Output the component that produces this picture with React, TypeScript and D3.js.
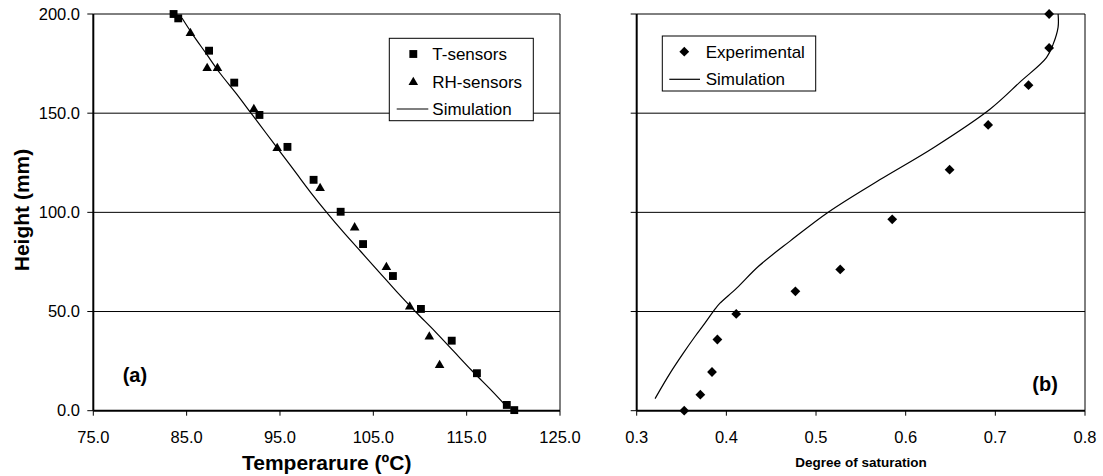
import React from 'react';
import * as d3 from 'd3';

// panel (a): temperature profile
const tSensorTemp = [83.6, 84.1, 87.4, 90.1, 92.8, 95.8, 98.6, 101.5, 103.9, 107.1, 110.1, 113.4, 116.1, 119.3, 120.1];
const tSensorHeight = [200.0, 197.8, 181.5, 165.4, 149.1, 133.0, 116.4, 100.3, 84.0, 67.9, 51.3, 35.3, 18.9, 2.9, 0.3];
const rhSensorTemp = [85.4, 87.2, 88.3, 92.2, 94.7, 99.3, 103.0, 106.4, 108.9, 111.0, 112.1];
const rhSensorHeight = [190.3, 172.6, 172.6, 152.0, 132.3, 112.1, 92.3, 72.3, 52.4, 37.3, 22.9];
const simTemp = [84.5, 85.6, 87.1, 88.6, 90.3, 91.9, 93.5, 95.1, 96.7, 98.3, 100.0, 101.8, 103.7, 105.6, 107.5, 109.5, 111.6, 113.6, 115.6, 117.7, 119.1];
const simTempHeight = [198, 190, 180, 170, 160, 150, 140, 130, 120, 110, 100, 90, 80, 70, 60, 50, 40, 30, 20, 10, 3];

// panel (b): degree of saturation
const expSat = [0.760, 0.760, 0.737, 0.692, 0.649, 0.585, 0.527, 0.477, 0.411, 0.390, 0.384, 0.371, 0.353];
const expHeight = [200.0, 182.9, 164.1, 144.1, 121.5, 96.5, 71.2, 60.2, 48.8, 35.9, 19.5, 8.1, 0.0];
const simSat = [0.3205, 0.3371, 0.352, 0.365, 0.3761, 0.3873, 0.3929, 0.4115, 0.4356, 0.471, 0.514, 0.571, 0.631, 0.694, 0.728, 0.757, 0.7645, 0.770, 0.770];
const simSatHeight = [6.1, 18.8, 29.0, 37.4, 44.1, 51.2, 54.2, 61.8, 72.7, 85.5, 100.2, 116.4, 132.6, 152.0, 165.9, 178.0, 184.8, 193.4, 200.0];

const tempTicks = [75, 85, 95, 105, 115, 125];
const satTicks = [0.3, 0.4, 0.5, 0.6, 0.7, 0.8];
const heightTicks = [0, 50, 100, 150, 200];

const FONT = 'Liberation Sans, Arial, sans-serif';

const App: React.FC = () => {
  const y = d3.scaleLinear().domain([0, 200]).range([410.7, 14]);
  const xA = d3.scaleLinear().domain([75, 125]).range([93.3, 560]);
  const xB = d3.scaleLinear().domain([0.3, 0.8]).range([636.7, 1085]);

  const square = d3.symbol(d3.symbolSquare, 62)()!;
  const triangle = d3.symbol(d3.symbolTriangle, 40)()!;
  const diamond = d3.symbol(d3.symbolSquare, 48)()!;

  const simLineA = d3.line<number>()
    .x((d) => xA(d))
    .y((d, i) => y(simTempHeight[i]))
    .curve(d3.curveCatmullRom);
  const simLineB = d3.line<number>()
    .x((d) => xB(d))
    .y((d, i) => y(simSatHeight[i]))
    .curve(d3.curveCatmullRom);

  // gridlines, right border and y ticks
  const panelFrame = (x: d3.ScaleLinear<number, number>, labels: boolean) => {
    const [x0, x1] = x.range();
    const [y0, y1] = y.range();
    return (
      <g>
        {heightTicks.filter((h) => h > 0).map((h) => (
          <line key={'g' + h} x1={x0} x2={x1} y1={y(h)} y2={y(h)} stroke="#000" strokeWidth={1} />
        ))}
        <line x1={x1} x2={x1} y1={y1} y2={y0} stroke="#000" strokeWidth={1} />
        {heightTicks.map((h) => (
          <g key={'yt' + h}>
            <line x1={x0 - 6} x2={x0} y1={y(h)} y2={y(h)} stroke="#000" strokeWidth={1} />
            {labels && (
              <text x={80} y={y(h)} dy="0.35em" textAnchor="end" fontSize={16.5} fontFamily={FONT}>
                {h.toFixed(1)}
              </text>
            )}
          </g>
        ))}
      </g>
    );
  };

  const xAxis = (x: d3.ScaleLinear<number, number>, ticks: number[], digits: number) => (
    <g>
      {ticks.map((t) => (
        <g key={'xt' + t}>
          <line x1={x(t)} x2={x(t)} y1={y(0)} y2={y(0) + 5} stroke="#000" strokeWidth={1} />
          <text x={x(t)} y={443} textAnchor="middle" fontSize={16.5} fontFamily={FONT}>
            {t.toFixed(digits)}
          </text>
        </g>
      ))}
      <line x1={x.range()[0]} x2={x.range()[1]} y1={y(0)} y2={y(0)} stroke="#000" strokeWidth={2} />
      <line x1={x.range()[0]} x2={x.range()[0]} y1={y(200)} y2={y(0)} stroke="#000" strokeWidth={2} />
    </g>
  );

  return (
    <svg width={1103} height={476} style={{ position: 'absolute', left: 0, top: 0, background: '#fff' }}>
      <rect width={1103} height={476} fill="#fff" />

      {/* panel (a) */}
      {panelFrame(xA, true)}
      {xAxis(xA, tempTicks, 1)}
      <path d={simLineA(simTemp) || ''} fill="none" stroke="#000" strokeWidth={1.2} />
      {tSensorTemp.map((t, i) => (
        <path key={'sq' + i} d={square} transform={`translate(${xA(t)},${y(tSensorHeight[i])})`} fill="#000" />
      ))}
      {rhSensorTemp.map((t, i) => (
        <path key={'tr' + i} d={triangle} transform={`translate(${xA(t)},${y(rhSensorHeight[i])})`} fill="#000" />
      ))}
      <g>
        <rect x={389.3} y={38.3} width={144} height={82.4} fill="#fff" stroke="#000" strokeWidth={1} />
        <path d={square} transform="translate(413.3,54)" fill="#000" />
        <text x={432.3} y={54} dy="0.35em" fontSize={17} fontFamily={FONT}>T-sensors</text>
        <path d={triangle} transform="translate(413.3,82.3)" fill="#000" />
        <text x={432.3} y={82.3} dy="0.35em" fontSize={17} fontFamily={FONT}>RH-sensors</text>
        <line x1={396.7} x2={428.3} y1={109} y2={109} stroke="#000" strokeWidth={1.2} />
        <text x={432.3} y={109} dy="0.35em" fontSize={17} fontFamily={FONT}>Simulation</text>
      </g>
      <text x={122.7} y={382} fontSize={20} fontWeight="bold" fontFamily={FONT}>(a)</text>
      <text x={326.7} y={470} textAnchor="middle" fontSize={21} fontWeight="bold" fontFamily={FONT}>Temperarure (ºC)</text>
      <text transform="translate(29,210) rotate(-90)" textAnchor="middle" fontSize={21} fontWeight="bold" fontFamily={FONT}>Height (mm)</text>

      {/* panel (b) */}
      {panelFrame(xB, false)}
      {xAxis(xB, satTicks, 1)}
      <path d={simLineB(simSat) || ''} fill="none" stroke="#000" strokeWidth={1.2} />
      {expSat.map((s, i) => (
        <path key={'di' + i} d={diamond} transform={`translate(${xB(s)},${y(expHeight[i])}) rotate(45)`} fill="#000" />
      ))}
      <g>
        <rect x={662.3} y={36} width={153.4} height={55} fill="#fff" stroke="#000" strokeWidth={1} />
        <path d={diamond} transform="translate(684.3,51.7) rotate(45)" fill="#000" />
        <text x={705.7} y={51.7} dy="0.35em" fontSize={17} fontFamily={FONT}>Experimental</text>
        <line x1={669.3} x2={700} y1={79.3} y2={79.3} stroke="#000" strokeWidth={1.2} />
        <text x={705.7} y={79.3} dy="0.35em" fontSize={17} fontFamily={FONT}>Simulation</text>
      </g>
      <text x={1032.3} y={391} fontSize={20} fontWeight="bold" fontFamily={FONT}>(b)</text>
      <text x={861} y={467} textAnchor="middle" fontSize={13.5} fontWeight="bold" fontFamily={FONT}>Degree of saturation</text>
    </svg>
  );
};

export default App;
